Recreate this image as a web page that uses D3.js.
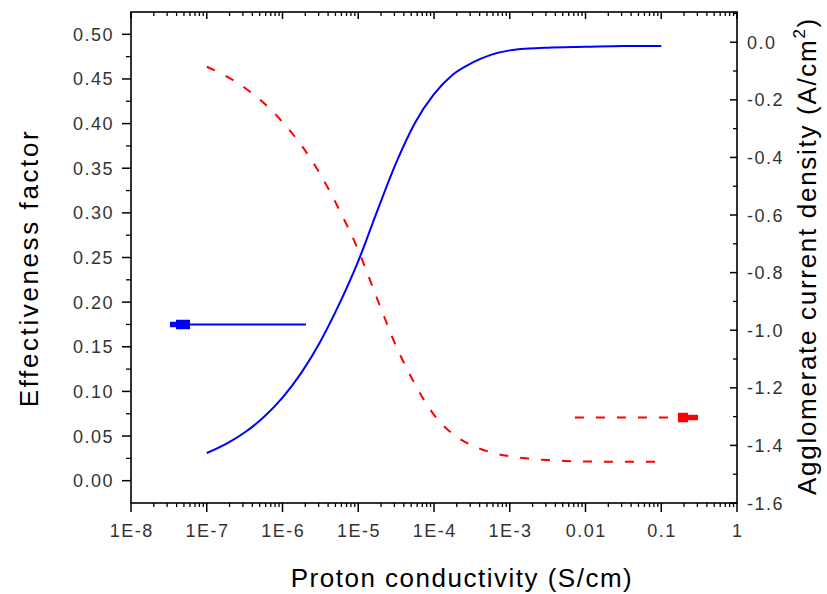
<!DOCTYPE html>
<html><head><meta charset="utf-8">
<script src="https://cdn.jsdelivr.net/npm/d3@7"></script>
<style>
html,body{margin:0;padding:0;background:#fff;}
svg{display:block;font-family:"Liberation Sans",Arial,sans-serif;}
</style></head>
<body>
<svg id="chart" width="827" height="594"></svg>
<script>
// ---- data ----
const logConductivity = [-7,-6.75,-6.5,-6.25,-6,-5.75,-5.5,-5.25,-5,-4.75,-4.5,-4.25,-4,-3.75,-3.5,-3.25,-3,-2.75,-2.5,-2,-1.5,-1];
const effectiveness = [0.031,0.041,0.054,0.071,0.093,0.121,0.156,0.198,0.246,0.302,0.356,0.401,0.433,0.455,0.468,0.477,0.482,0.484,0.485,0.486,0.487,0.487];
const currentDensity = [-0.085,-0.117,-0.158,-0.210,-0.277,-0.358,-0.459,-0.582,-0.722,-0.891,-1.055,-1.188,-1.294,-1.361,-1.400,-1.424,-1.438,-1.446,-1.451,-1.456,-1.457,-1.457];
const xTickValues = [1e-8,1e-7,1e-6,1e-5,1e-4,1e-3,0.01,0.1,1];
const xTickLabels = ["1E-8","1E-7","1E-6","1E-5","1E-4","1E-3","0.01","0.1","1"];
const leftTicks = [0,0.05,0.10,0.15,0.20,0.25,0.30,0.35,0.40,0.45,0.50];
const leftMinor = [0.025,0.075,0.125,0.175,0.225,0.275,0.325,0.375,0.425,0.475];
const rightTicks = [0,-0.2,-0.4,-0.6,-0.8,-1.0,-1.2,-1.4,-1.6];
const rightMinor = [0.1,-0.1,-0.3,-0.5,-0.7,-0.9,-1.1,-1.3,-1.5];
// arrows: tail log x, tip log x, value
const blueArrow = {from:-5.69, to:-7.485, value:0.175};
const redArrow = {from:-2.14, to:-0.515, value:-1.303};

const svg = d3.select("#chart");
const L=131, R=737, T=12, B=503;
const x = d3.scaleLog().domain([1e-8,1]).range([L,R]);
const yL = d3.scaleLinear().domain([-0.025,0.525]).range([B,T]);
const yR = d3.scaleLinear().domain([-1.6,0.105]).range([B,T]);

const blue="#0000ff", red="#ff0000", txt="#333";
const fs = 18, ls = 1.5;

const minorX = [];
for (let e=-8;e<0;e++) for (let m=2;m<=9;m++) minorX.push(m*Math.pow(10,e));

const g = svg.append("g");
// bottom axis: ticks outward
minorX.forEach(v=>g.append("line").attr("x1",x(v)).attr("x2",x(v)).attr("y1",B).attr("y2",B+4).attr("stroke","#000").attr("stroke-width",1.3));
xTickValues.forEach((v,i)=>{
  g.append("line").attr("x1",x(v)).attr("x2",x(v)).attr("y1",B).attr("y2",B+9).attr("stroke","#000").attr("stroke-width",1.5);
  g.append("text").attr("x",x(v)+ls/2).attr("y",B+34).attr("text-anchor","middle").attr("font-size",fs).attr("letter-spacing",ls).attr("fill",txt).text(xTickLabels[i]);
});
// top axis: ticks inward
minorX.forEach(v=>g.append("line").attr("x1",x(v)).attr("x2",x(v)).attr("y1",T).attr("y2",T+4).attr("stroke","#000").attr("stroke-width",1.3));
xTickValues.forEach(v=>g.append("line").attr("x1",x(v)).attr("x2",x(v)).attr("y1",T).attr("y2",T+7).attr("stroke","#000").attr("stroke-width",1.5));

// left axis: ticks outward
leftTicks.forEach(v=>{
  g.append("line").attr("x1",L-9).attr("x2",L).attr("y1",yL(v)).attr("y2",yL(v)).attr("stroke","#000").attr("stroke-width",1.5);
  g.append("text").attr("x",L-17).attr("y",yL(v)+6.5).attr("text-anchor","end").attr("font-size",fs).attr("letter-spacing",ls).attr("fill",txt).text(v.toFixed(2));
});
leftMinor.forEach(v=>g.append("line").attr("x1",L-5).attr("x2",L).attr("y1",yL(v)).attr("y2",yL(v)).attr("stroke","#000").attr("stroke-width",1.3));

// right axis: ticks inward
rightTicks.forEach(v=>{
  g.append("line").attr("x1",R-7).attr("x2",R).attr("y1",yR(v)).attr("y2",yR(v)).attr("stroke","#000").attr("stroke-width",1.5);
  g.append("text").attr("x",R+10).attr("y",yR(v)+6.5).attr("text-anchor","start").attr("font-size",fs).attr("letter-spacing",ls).attr("fill",txt).text(v.toFixed(1));
});
rightMinor.forEach(v=>g.append("line").attr("x1",R-4).attr("x2",R).attr("y1",yR(v)).attr("y2",yR(v)).attr("stroke","#000").attr("stroke-width",1.3));

// frame
g.append("rect").attr("x",L).attr("y",T).attr("width",R-L).attr("height",B-T).attr("fill","none").attr("stroke","#000").attr("stroke-width",1.6);

// curves
const lineL = d3.line().x((d,i)=>x(Math.pow(10,logConductivity[i]))).y(d=>yL(d)).curve(d3.curveMonotoneX);
const lineR = d3.line().x((d,i)=>x(Math.pow(10,logConductivity[i]))).y(d=>yR(d)).curve(d3.curveMonotoneX);
svg.append("path").datum(effectiveness).attr("d",lineL).attr("fill","none").attr("stroke",blue).attr("stroke-width",2);
svg.append("path").datum(currentDensity).attr("d",lineR).attr("fill","none").attr("stroke",red).attr("stroke-width",2).attr("stroke-dasharray","9,12");

// arrows
function arrow(a, scale, color, dashed, dir, thin){
  const x0=x(Math.pow(10,a.from)), x1=x(Math.pow(10,a.to)), yy=scale(a.value);
  const headLen = 20;
  svg.append("line").attr("x1",x0).attr("x2",x1-dir*headLen).attr("y1",yy).attr("y2",yy).attr("stroke",color).attr("stroke-width",2).attr("stroke-dasharray",dashed?"9,12":null);
  const p = [[x1,yy-2.7],[x1-dir*thin,yy-2.7],[x1-dir*thin,yy-4.7],[x1-dir*headLen,yy-4.7],[x1-dir*headLen,yy+4.7],[x1-dir*thin,yy+4.7],[x1-dir*thin,yy+2.7],[x1,yy+2.7]];
  svg.append("path").attr("d","M"+p.map(q=>q.join(",")).join("L")+"Z").attr("fill",color);
}
arrow(blueArrow, yL, blue, false, -1, 6);
arrow(redArrow, yR, red, true, 1, 10);

// axis titles
svg.append("text").attr("transform",`translate(${38},${268}) rotate(-90)`).attr("text-anchor","middle").attr("font-size",26).attr("letter-spacing",2.6).attr("fill","#000").text("Effectiveness factor");
svg.append("text").attr("x",462).attr("y",587).attr("text-anchor","middle").attr("font-size",26).attr("letter-spacing",1.5).attr("fill","#000").text("Proton conductivity (S/cm)");
const rt = svg.append("text").attr("transform",`translate(${816},${256}) rotate(-90)`).attr("text-anchor","middle").attr("font-size",26).attr("letter-spacing",1.7).attr("fill","#000");
rt.append("tspan").text("Agglomerate current density (A/cm");
rt.append("tspan").attr("dy",-11).attr("font-size",17).text("2");
rt.append("tspan").attr("dy",11).text(")");
</script>
</body></html>
